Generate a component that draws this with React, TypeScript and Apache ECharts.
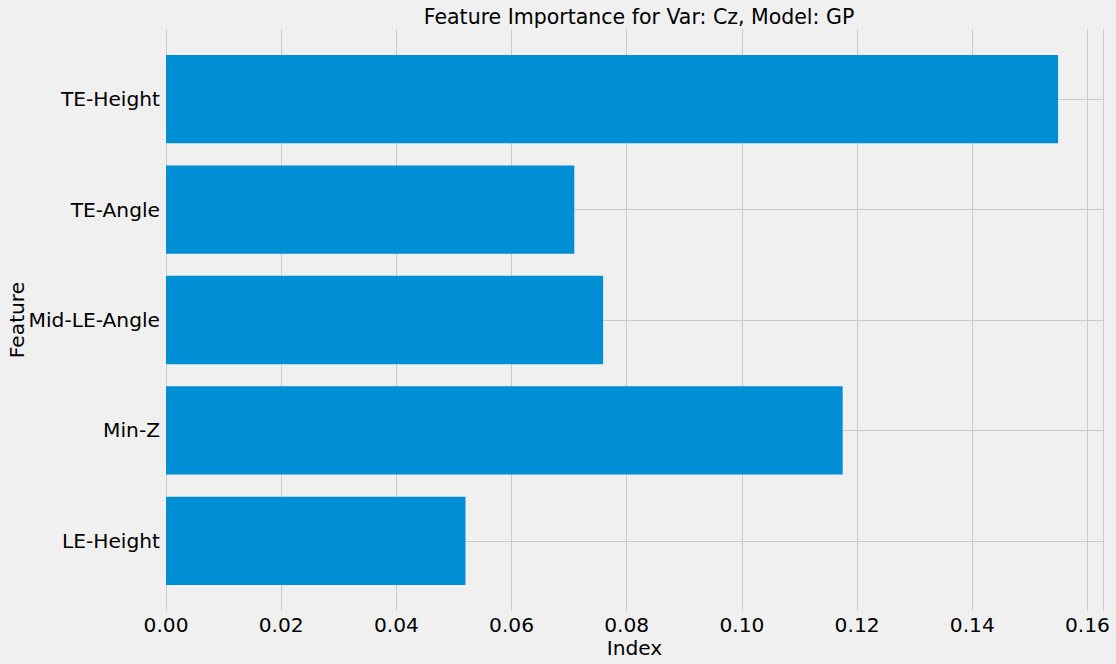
import React, { useEffect, useRef } from "react";
import * as echarts from "echarts";

const categories = ["LE-Height", "Min-Z", "Mid-LE-Angle", "TE-Angle", "TE-Height"];
const importance = [0.052, 0.1175, 0.0759, 0.0709, 0.1549];
const xMin = 0;
const xMax = 0.1627;
const xInterval = 0.02;

const FONT = "DejaVu Sans";
const FS = 20.2;

export default function App() {
  const ref = useRef<HTMLDivElement>(null);
  useEffect(() => {
    document.body.style.margin = "0";
    const chart = echarts.init(ref.current!, undefined, { renderer: "svg" });
    chart.setOption({
      animation: false,
      backgroundColor: "#f0f0f0",
      textStyle: { fontFamily: FONT },
      title: {
        text: "Feature Importance for Var: Cz, Model: GP",
        left: 634,
        textAlign: "center",
        top: 1,
        textStyle: { fontFamily: FONT, fontSize: 20.5, fontWeight: "normal", color: "#000" },
      },
      grid: [
        { left: 166, right: 13, top: 29, bottom: 53, outerBoundsMode: "none", containLabel: false },
        { left: 166, right: 13, top: 44, height: 552, outerBoundsMode: "none", containLabel: false },
      ],
      xAxis: [
        {
          type: "value",
          gridIndex: 0,
          min: xMin,
          max: xMax,
          interval: xInterval,
          axisLine: { show: false },
          axisTick: { show: false },
          axisLabel: {
            color: "#000",
            fontSize: FS,
            fontFamily: FONT,
            margin: 4,
            formatter: (v: number) => v.toFixed(2),
            showMaxLabel: false,
          },
          splitLine: { show: true, lineStyle: { color: "#cbcbcb", width: 1 } },
          name: "Index",
          nameLocation: "middle",
          nameGap: 27,
          nameMoveOverlap: false,
          nameTextStyle: { color: "#000", fontSize: FS, fontFamily: FONT },
        },
        {
          type: "value",
          gridIndex: 1,
          min: xMin,
          max: xMax,
          show: false,
          splitLine: { show: false },
        },
      ],
      yAxis: [
        {
          type: "value",
          gridIndex: 0,
          min: 0,
          max: 1,
          show: false,
          splitLine: { show: false },
        },
        {
          type: "category",
          gridIndex: 1,
          data: categories,
          axisLine: { show: false },
          axisTick: { show: false },
          splitLine: { show: false },
          axisLabel: { color: "#000", fontSize: FS, fontFamily: FONT, margin: 6 },
          name: "Feature",
          nameLocation: "middle",
          nameGap: 139,
          nameMoveOverlap: false,
          nameTextStyle: { color: "#000", fontSize: FS, fontFamily: FONT },
        },
      ],
      series: [
        {
          type: "bar",
          xAxisIndex: 1,
          yAxisIndex: 1,
          data: importance,
          barWidth: "80%",
          itemStyle: { color: "#008fd5" },
          z: 2,
          markLine: {
            silent: true,
            symbol: "none",
            z: 1,
            label: { show: false },
            lineStyle: { color: "#cbcbcb", type: "solid", width: 1 },
            data: categories.map((c) => ({ yAxis: c })),
          },
        },
      ],
    });
    return () => chart.dispose();
  }, []);
  return <div ref={ref} style={{ width: 1116, height: 664 }} />;
}
